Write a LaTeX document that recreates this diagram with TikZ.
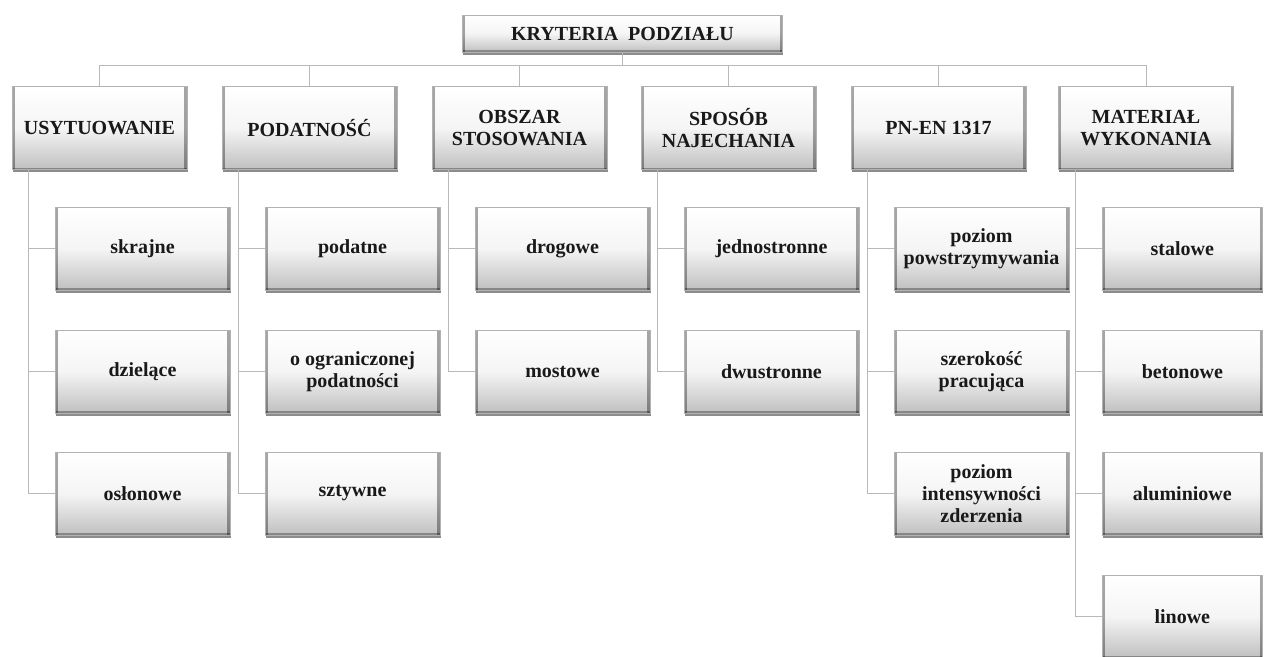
\documentclass[tikz,border=0pt]{standalone}
\usepackage{fontspec}
\setmainfont{Liberation Serif}
\usetikzlibrary{shadows}
\begin{document}
\begin{tikzpicture}[x=0.75pt,y=-0.75pt,
  box/.style={draw=gray!60, line width=0.5pt, top color=white, bottom color=gray!50,
    middle color=white!92!gray,
    drop shadow={shadow xshift=0.6pt, shadow yshift=-1.8pt, opacity=0.45, fill=black},
    path picture={
      \draw[black, opacity=0.35, line width=2.2pt] ([xshift=1pt]path picture bounding box.north west) -- ([xshift=1pt]path picture bounding box.south west);
      \draw[black, opacity=0.35, line width=2.2pt] ([xshift=-1pt]path picture bounding box.north east) -- ([xshift=-1pt]path picture bounding box.south east);
      \draw[black, opacity=0.3, line width=1.6pt] ([yshift=0.8pt]path picture bounding box.south west) -- ([yshift=0.8pt]path picture bounding box.south east);
    },
    minimum width=131pt, minimum height=62.5pt, inner sep=1pt, align=center,
    font=\bfseries\fontsize{15}{16.5}\selectfont, text=black!90},
  topbox/.style={box, minimum width=240pt, minimum height=28pt},
  conn/.style={draw=gray!55, line width=0.6pt}]
\useasboundingbox (0,0) rectangle (1265,657);
\fill[white] (0,0) rectangle (1265,657);
% top
\node[topbox] (top) at (622.5,33.5) {KRYTERIA\ \ PODZIAŁU};
% parents
\node[box] (p1) at (99.5,128) {USYTUOWANIE};
\node[box] (p2) at (309.5,128) {PODATNOŚĆ};
\node[box] (p3) at (519.5,128) {OBSZAR\\STOSOWANIA};
\node[box] (p4) at (728.5,128) {SPOSÓB\\NAJECHANIA};
\node[box] (p5) at (938.5,128) {PN-EN 1317};
\node[box] (p6) at (1146,128) {MATERIAŁ\\WYKONANIA};
% hub
\coordinate (hub) at (622.5,65);
\draw[conn] (top.south) -- (hub);
\draw[conn] (hub -| p1.north) -- (hub -| p6.north);
\foreach \p in {p1,p2,p3,p4,p5,p6}{\draw[conn] (hub -| \p.north) -- (\p.north);}
% children column 1
\node[box] (c11) at (142.5,248.5) {skrajne};
\node[box] (c12) at (142.5,371.5) {dzielące};
\node[box] (c13) at (142.5,493.5) {osłonowe};
% column 2
\node[box] (c21) at (352.5,248.5) {podatne};
\node[box] (c22) at (352.5,371.5) {o ograniczonej\\podatności};
\node[box] (c23) at (352.5,493.5) {sztywne};
% column 3
\node[box] (c31) at (562.5,248.5) {drogowe};
\node[box] (c32) at (562.5,371.5) {mostowe};
% column 4
\node[box] (c41) at (771.5,248.5) {jednostronne};
\node[box] (c42) at (771.5,371.5) {dwustronne};
% column 5
\node[box] (c51) at (981.5,248.5) {poziom\\powstrzymywania};
\node[box] (c52) at (981.5,371.5) {szerokość\\pracująca};
\node[box] (c53) at (981.5,493.5) {poziom\\intensywności\\zderzenia};
% column 6
\node[box, minimum width=120pt, anchor=west] (c61) at (1102,248.5) {stalowe};
\node[box, minimum width=120pt, anchor=west] (c62) at (1102,371.5) {betonowe};
\node[box, minimum width=120pt, anchor=west] (c63) at (1102,493.5) {aluminiowe};
\node[box, minimum width=120pt, anchor=west] (c64) at (1102,616.5) {linowe};
% connectors
\foreach \p/\cs in {p1/{c11,c12,c13},p2/{c21,c22,c23},p3/{c31,c32},p4/{c41,c42},p5/{c51,c52,c53},p6/{c61,c62,c63,c64}}{
  \foreach \c in \cs {\draw[conn] ([xshift=12.75pt]\p.south west) |- (\c.west);}
}
\end{tikzpicture}
\end{document}
